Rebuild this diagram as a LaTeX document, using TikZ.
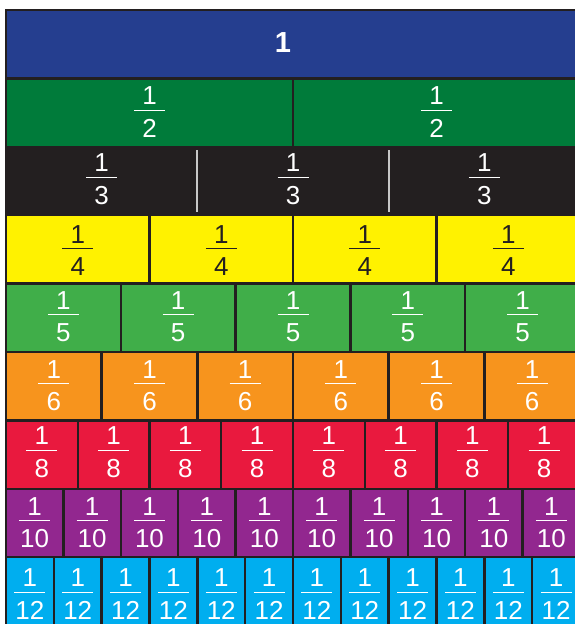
\documentclass[tikz,border=0pt]{standalone}
\usepackage{fontspec}
\setmainfont{Liberation Sans}
\definecolor{edgegray}{RGB}{35,31,32}
\definecolor{wholeblue}{RGB}{37,62,143}
\definecolor{halfgreen}{RGB}{0,123,58}
\definecolor{thirdblack}{RGB}{35,31,32}
\definecolor{quarteryellow}{RGB}{255,242,0}
\definecolor{fifthgreen}{RGB}{64,174,73}
\definecolor{sixthorange}{RGB}{247,148,29}
\definecolor{eighthred}{RGB}{233,25,62}
\definecolor{tenthpurple}{RGB}{146,39,143}
\definecolor{twelfthcyan}{RGB}{0,174,239}
\definecolor{splitgray}{RGB}{200,200,200}
\begin{document}
\begin{tikzpicture}[x=1pt,y=-1pt,
    cell/.style={draw=edgegray,line width=2.4pt},
    digit/.style={font=\fontsize{26}{26}\selectfont,inner sep=0pt},
    fracbar/.style={line width=1.3pt}
  ]
  \useasboundingbox (0,0) rectangle (575,624);
  \clip (0,0) rectangle (575,624);
  % whole bar
  \draw[cell,fill=wholeblue] (6,10) rectangle (580,78.4);
  \node[digit,text=white,font=\fontsize{29}{29}\selectfont\bfseries] (one) at (283,43) {1};
  % one row of strips per denominator (last field: height of the fraction bar in the row)
  \foreach \d/\col/\ink/\by [count=\r] in {2/halfgreen/white/32,3/thirdblack/white/30.5,
      4/quarteryellow/edgegray/33.5,5/fifthgreen/white/31,6/sixthorange/white/31.7,
      8/eighthred/white/30,10/tenthpurple/white/32,12/twelfthcyan/white/35} {
    \pgfmathsetmacro\ytop{10+68.4*\r}
    \pgfmathsetmacro\cw{574/\d}
    \foreach \i in {1,...,\d} {
      \pgfmathsetmacro\cx{6+(\i-0.5)*\cw}
      \draw[cell,fill=\col] ({6+(\i-1)*\cw},\ytop) rectangle ++(\cw,68.4);
      \node[digit,text=\ink] (n\d-\i) at (\cx,\ytop+\by-14.5) {1};
      \draw[fracbar,\ink] (\cx-15.5,\ytop+\by) -- (\cx+15.5,\ytop+\by);
      \node[digit,text=\ink] (d\d-\i) at (\cx,\ytop+\by+18) {\d};
    }
  }
  % light splits in the thirds row
  \foreach \i in {1,2}
    \draw[splitgray,line width=2pt] ({6+\i*574/3},150) -- ({6+\i*574/3},212);
\end{tikzpicture}
\end{document}
